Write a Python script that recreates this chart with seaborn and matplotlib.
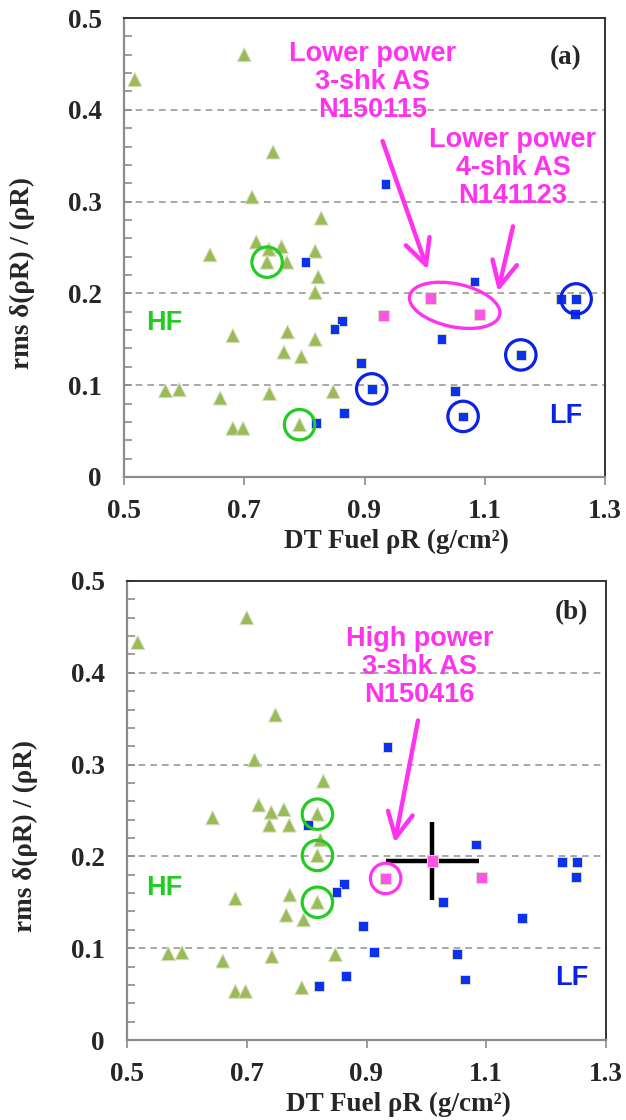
import numpy as np
import pandas as pd
import matplotlib
matplotlib.use("Agg")
import matplotlib.pyplot as plt
from matplotlib.patches import Ellipse
from matplotlib.ticker import MultipleLocator, FixedLocator
from matplotlib.transforms import ScaledTranslation
import seaborn as sns

# ---- data -------------------------------------------------------------
hf_x = [0.518, 0.700, 0.748, 0.713, 0.828, 0.720, 0.741, 0.762, 0.643,
        0.738, 0.771, 0.818, 0.823, 0.818, 0.681, 0.772, 0.818, 0.766,
        0.795, 0.569, 0.592, 0.660, 0.742, 0.848, 0.681, 0.698, 0.792]
hf_y = [0.433, 0.460, 0.354, 0.305, 0.282, 0.256, 0.248, 0.251, 0.242,
        0.234, 0.234, 0.246, 0.218, 0.201, 0.154, 0.158, 0.150, 0.136,
        0.131, 0.094, 0.095, 0.086, 0.091, 0.093, 0.053, 0.053, 0.057]

lf_x = [0.802, 0.935, 0.862, 0.850, 0.894, 0.912, 0.866, 0.820,
        1.083, 1.028, 1.227, 1.252, 1.250, 1.160, 1.051, 1.064]
lf_y = [0.234, 0.319, 0.170, 0.161, 0.124, 0.096, 0.070, 0.059,
        0.213, 0.150, 0.194, 0.194, 0.178, 0.133, 0.094, 0.066]

as_x = [0.932, 1.010, 1.092]
as_y = [0.176, 0.195, 0.177]

# highlighted shots
hf_circled_a = [9, 26]
lf_circled_a = [5, 15, 13, 11]
hf_circled_b = [11, 13, 16]
as_circled_b = [0]
as_pair_a = [1, 2]
as_err_idx = 1
as_xerr = 0.078
as_yerr = 0.042

x_ticks = [0.5, 0.7, 0.9, 1.1, 1.3]
x_ticklabels = ["0.5", "0.7", "0.9", "1.1", "1.3"]
y_ticks = [0.0, 0.1, 0.2, 0.3, 0.4, 0.5]
y_ticklabels = ["0", "0.1", "0.2", "0.3", "0.4", "0.5"]

df = pd.DataFrame({
    "x": hf_x + lf_x + as_x,
    "y": hf_y + lf_y + as_y,
    "group": ["HF"] * len(hf_x) + ["LF"] * len(lf_x) + ["AS"] * len(as_x),
})

# ---- style ------------------------------------------------------------
sns.set_style("white")
plt.rcParams["font.family"] = ["Liberation Serif", "DejaVu Serif"]

OLIVE = "#9BBB59"
BLUE = "#0A32F0"
PINK = "#FF55E6"
MAGENTA = "#FF33EE"
GREEN = "#22CC22"
RING_BLUE = "#0A22E6"
SANS = ["Liberation Sans", "DejaVu Sans"]
TICK_FS = 19.5
TEXT_FS = 19.5

fig = plt.figure(figsize=(6.26, 11.2), dpi=100)
ax_a = fig.add_axes([124 / 626, 1 - 477 / 1120, 481 / 626, 459 / 1120])
ax_b = fig.add_axes([127 / 626, 1 - 1040 / 1120, 479 / 626, 459 / 1120])


def base_panel(ax, tag, tag_xy):
    sns.scatterplot(
        data=df, x="x", y="y", hue="group", style="group", size="group",
        palette={"HF": OLIVE, "LF": BLUE, "AS": PINK},
        markers={"HF": "^", "LF": "s", "AS": "s"},
        sizes={"HF": 100, "LF": 50, "AS": 64},
        edgecolor="#d6dfc0", linewidth=0.7, legend=False, ax=ax, zorder=3,
    )
    ax.set_xlim(0.5, 1.3)
    ax.set_ylim(0.0, 0.5)
    ax.xaxis.set_major_locator(FixedLocator(x_ticks))
    ax.set_xticklabels(x_ticklabels)
    ax.yaxis.set_major_locator(FixedLocator(y_ticks))
    ax.set_yticklabels(y_ticklabels)
    ax.yaxis.set_minor_locator(MultipleLocator(0.02))
    for lab in ax.get_xticklabels() + ax.get_yticklabels():
        lab.set_fontweight("bold")
        lab.set_fontsize(TICK_FS)
    ax.tick_params(axis="x", which="major", direction="out", length=6,
                   width=1.2, color="#8c8c8c", pad=10, bottom=True)
    ax.tick_params(axis="y", which="both", direction="in", length=6,
                   width=1.2, color="#8c8c8c", pad=16, left=True)
    ax.yaxis.grid(True, which="major", linestyle=(0, (4, 3)),
                  color="#9a9a9a", linewidth=1.2)
    ax.xaxis.grid(False)
    ax.set_axisbelow(True)
    for side in ["left", "bottom"]:
        ax.spines[side].set_color("#8c8c8c")
        ax.spines[side].set_linewidth(1.6)
    for side in ["top", "right"]:
        ax.spines[side].set_color("#333333")
        ax.spines[side].set_linewidth(1.4)
    ax.set_xlabel("DT Fuel ρR (g/cm²)", fontsize=TICK_FS, fontweight="bold")
    ax.set_ylabel("rms δ(ρR) / (ρR)", fontsize=TICK_FS, fontweight="bold")
    ax.xaxis.set_label_coords(0.567, -0.112)
    ax.yaxis.set_label_coords(-0.212, 0.445)
    ax.yaxis.label.set_va("center")
    ax.text(tag_xy[0], tag_xy[1], tag, fontsize=TEXT_FS, fontweight="bold",
            ha="center", va="center")


def rings(ax, xs, ys, idx, color):
    ax.scatter([xs[i] for i in idx], [ys[i] for i in idx], s=480,
               facecolors="none", edgecolors=color, linewidths=2.3, zorder=4)


def note(ax, text, xy_text, xy_arrow_start, xy_arrow_end):
    ax.text(xy_text[0], xy_text[1], text, color=MAGENTA, fontsize=TEXT_FS,
            fontweight="bold", family=SANS, ha="center", va="center",
            linespacing=1.1, zorder=5)
    ax.annotate("", xy=xy_arrow_end, xytext=xy_arrow_start,
                arrowprops=dict(arrowstyle="->,head_length=0.9,head_width=0.45",
                                color=MAGENTA, lw=3.2, mutation_scale=20,
                                shrinkA=0, shrinkB=0), zorder=5)


# ---- panel (a) --------------------------------------------------------
base_panel(ax_a, "(a)", (1.235, 0.457))
rings(ax_a, hf_x, hf_y, hf_circled_a, GREEN)
rings(ax_a, lf_x, lf_y, lf_circled_a, RING_BLUE)
cx = np.mean([as_x[i] for i in as_pair_a]) - 0.001
cy = np.mean([as_y[i] for i in as_pair_a]) + 0.001
pair_ring = Ellipse((0, 0), 0.92, 0.43, angle=-12, fill=False,
                    edgecolor=MAGENTA, linewidth=2.4,
                    transform=fig.dpi_scale_trans
                    + ScaledTranslation(cx, cy, ax_a.transData), zorder=4)
ax_a.add_patch(pair_ring)
note(ax_a, "Lower power\n3-shk AS\nN150115", (0.913, 0.430),
     (0.930, 0.366), (1.005, 0.226))
note(ax_a, "Lower power\n4-shk AS\nN141123", (1.147, 0.337),
     (1.147, 0.273), (1.122, 0.202))
ax_a.text(0.567, 0.168, "HF", color=GREEN, fontsize=TEXT_FS, fontweight="bold",
          family=SANS, ha="center", va="center")
ax_a.text(1.235, 0.066, "LF", color=RING_BLUE, fontsize=TEXT_FS,
          fontweight="bold", family=SANS, ha="center", va="center")

# ---- panel (b) --------------------------------------------------------
base_panel(ax_b, "(b)", (1.242, 0.466))
rings(ax_b, hf_x, hf_y, hf_circled_b, GREEN)
rings(ax_b, as_x, as_y, as_circled_b, MAGENTA)
ax_b.errorbar(as_x[as_err_idx], as_y[as_err_idx], xerr=as_xerr, yerr=as_yerr,
              fmt="none", ecolor="black", elinewidth=3.2, capsize=0, zorder=2)
note(ax_b, "High power\n3-shk AS\nN150416", (0.989, 0.406),
     (0.986, 0.348), (0.947, 0.215))
ax_b.text(0.563, 0.166, "HF", color=GREEN, fontsize=TEXT_FS, fontweight="bold",
          family=SANS, ha="center", va="center")
ax_b.text(1.242, 0.068, "LF", color=RING_BLUE, fontsize=TEXT_FS,
          fontweight="bold", family=SANS, ha="center", va="center")

fig.savefig("out.png", dpi=100)
